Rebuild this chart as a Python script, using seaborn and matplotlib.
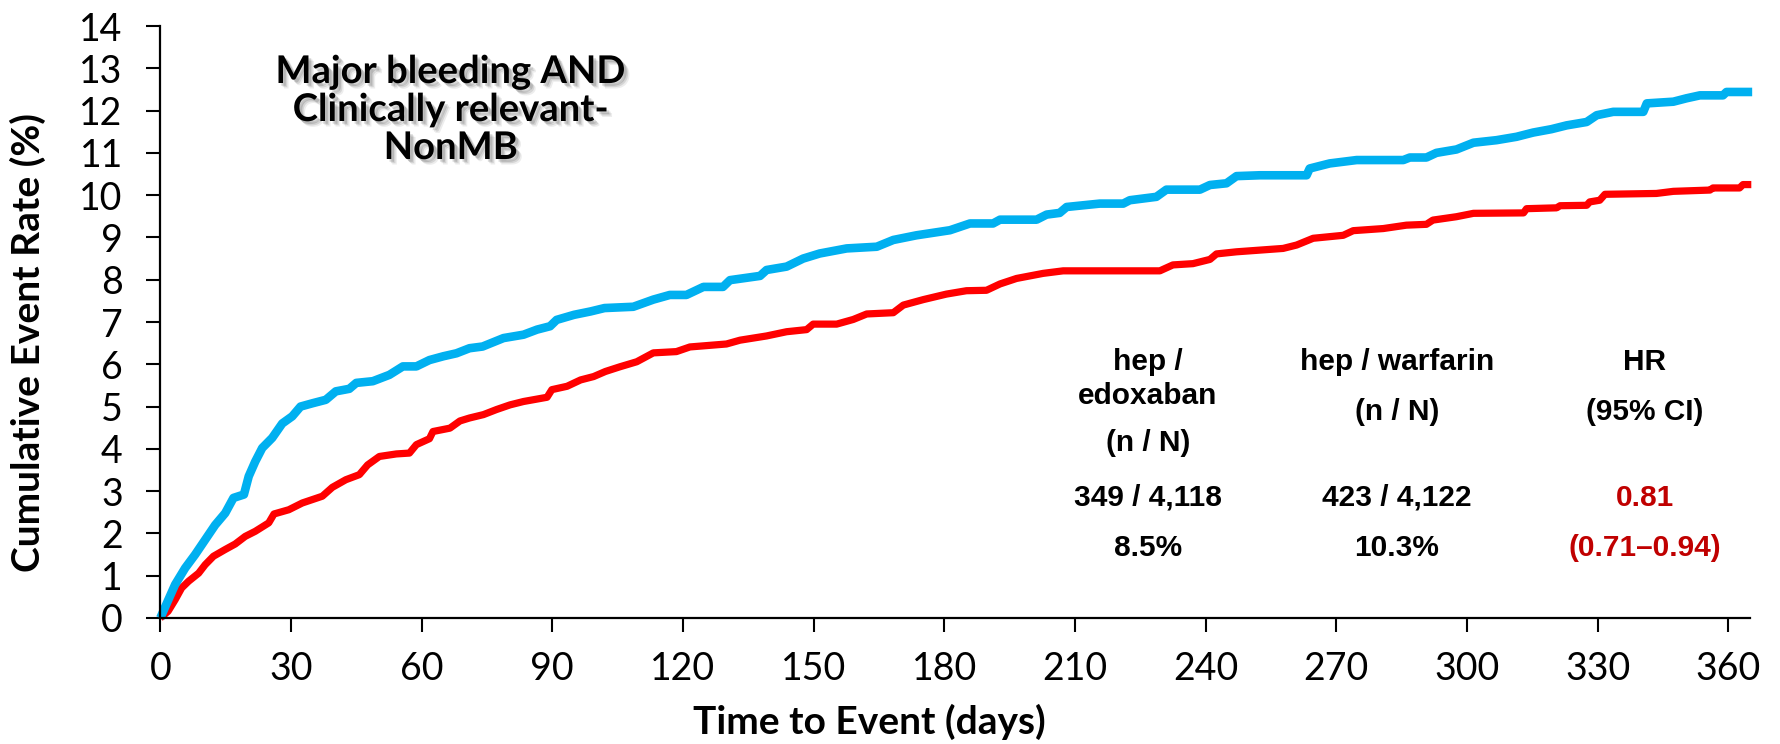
import matplotlib
matplotlib.use("Agg")
import matplotlib.pyplot as plt
import matplotlib.patheffects as pe
import seaborn as sns
import pandas as pd

# ---------------- data ----------------
warfarin_days = [0, 1.5, 3.4, 5.7, 8, 10.3, 12.6, 14.9, 16.8, 19.2, 20.3, 21.8, 23.4, 25.7, 28,
                 30.3, 32.2, 35, 38, 40.3, 43.4, 45, 48.8, 52.6, 55.7, 58.8, 61.8, 65, 68, 71, 74,
                 78.8, 83.4, 86.5, 89.5, 91, 95, 98.8, 102, 108.6, 113.2, 117, 120.8, 124.7, 129.2,
                 130.8, 137.7, 139.2, 143.8, 147.6, 151.4, 157.6, 164.5, 168.3, 173.6, 181.3, 185.9,
                 191.2, 192.8, 201.2, 203.5, 206.5, 208.1, 215.7, 221.1, 222.6, 228.7, 231, 238.7,
                 241, 244.8, 247.1, 252.5, 263.2, 263.9, 268.5, 274.7, 285.4, 286.9, 290.7, 293,
                 297.6, 301.5, 306.8, 311.4, 315.2, 319.4, 322.9, 327.5, 329.8, 333.6, 340.5, 341.3,
                 347.4, 350.4, 353.5, 358.8, 359.6, 365.5]
warfarin_rate = [0, 0.35, 0.79, 1.18, 1.5, 1.85, 2.2, 2.48, 2.84, 2.92, 3.35, 3.7, 4.02, 4.26, 4.6,
                 4.77, 5.0, 5.08, 5.16, 5.36, 5.42, 5.56, 5.6, 5.75, 5.95, 5.95, 6.1, 6.19, 6.26, 6.38, 6.42,
                 6.62, 6.7, 6.82, 6.9, 7.05, 7.17, 7.25, 7.33, 7.36, 7.53, 7.64, 7.64, 7.83, 7.83,
                 7.99, 8.09, 8.23, 8.31, 8.5, 8.62, 8.74, 8.78, 8.94, 9.05, 9.17, 9.33,
                 9.33, 9.42, 9.42, 9.54, 9.58, 9.72, 9.8, 9.8, 9.88, 9.96, 10.13, 10.13,
                 10.24, 10.28, 10.45, 10.47, 10.47, 10.63, 10.75, 10.83, 10.83, 10.89, 10.89, 11.0,
                 11.08, 11.24, 11.3, 11.38, 11.48, 11.56, 11.65, 11.73, 11.89, 11.97, 11.97, 12.17,
                 12.21, 12.29, 12.36, 12.36, 12.44, 12.44]

edoxaban_days = [0, 1.8, 3.4, 4.9, 6.5, 8.8, 10.3, 12.2, 14.9, 17.2, 19.5, 21.8, 24.9, 26.1, 29.5,
                 32.6, 37.2, 39.5, 42.6, 45.7, 47.6, 50.3, 54.2, 57.2, 58.8, 61.8, 62.6, 66.5, 68.8,
                 71, 74.2, 77.2, 80.3, 83.4, 88.8, 89.9, 93.4, 96.5, 99.5, 102.2, 105.5, 109.4, 113.2,
                 118.5, 121.6, 130, 133.1, 139.2, 143.8, 148.4, 149.9, 155.3, 159.1, 162.2, 168.3,
                 170.6, 175.2, 180.5, 185.1, 189.7, 192.8, 196.6, 202.7, 207.3, 229.5, 232.5, 237.1,
                 241, 242.5, 247.1, 257.8, 260.9, 264.7, 271.6, 273.9, 280.8, 286.1, 290.7, 292.2,
                 297.6, 301.5, 313, 313.7, 320.6, 321.4, 327.5, 328.2, 330.5, 331.7, 343.5, 347.4,
                 355.8, 356.5, 362.6, 363.4, 365.3]
edoxaban_rate = [0, 0.16, 0.43, 0.71, 0.87, 1.06, 1.26, 1.46, 1.62, 1.75, 1.93, 2.05, 2.25, 2.46, 2.56,
                 2.72, 2.88, 3.09, 3.27, 3.39, 3.62, 3.82, 3.88, 3.9, 4.1, 4.24, 4.41, 4.49, 4.66,
                 4.73, 4.81, 4.93, 5.04, 5.12, 5.22, 5.4, 5.48, 5.63, 5.71, 5.83, 5.94, 6.06, 6.27,
                 6.3, 6.41, 6.48, 6.57, 6.67, 6.77, 6.82, 6.95, 6.95, 7.06, 7.19, 7.22,
                 7.4, 7.53, 7.66, 7.74, 7.75, 7.9, 8.03, 8.15, 8.21, 8.21, 8.35, 8.38,
                 8.48, 8.61, 8.66, 8.74, 8.82, 8.98, 9.05, 9.16, 9.21, 9.29, 9.31, 9.41,
                 9.49, 9.57, 9.58, 9.68, 9.7, 9.75, 9.76, 9.84, 9.88, 10.02, 10.04, 10.09,
                 10.12, 10.17, 10.17, 10.25, 10.25]

x_ticks = [0, 30, 60, 90, 120, 150, 180, 210, 240, 270, 300, 330, 360]
y_ticks = list(range(0, 15))

title_lines = ["Major bleeding AND", "Clinically relevant-", "NonMB"]
col1_header = ["hep /", "edoxaban", "(n / N)"]
col2_header = ["hep / warfarin", "(n / N)"]
col3_header = ["HR", "(95% CI)"]
col1_values = ["349 / 4,118", "8.5%"]
col2_values = ["423 / 4,122", "10.3%"]
col3_values = ["0.81", "(0.71\u20130.94)"]

# ---------------- styling ----------------
sns.set_theme(style="ticks")
plt.rcParams['font.family'] = ['Lato', 'DejaVu Sans']

W, H = 1781, 744
fig = plt.figure(figsize=(W / 100, H / 100), dpi=100)
ax_l, ax_r, ax_t, ax_b = 160.3, 1750, 26, 618
ax = fig.add_axes([ax_l / W, 1 - ax_b / H, (ax_r - ax_l) / W, (ax_b - ax_t) / H])

df_e = pd.DataFrame({"day": edoxaban_days, "rate": edoxaban_rate})
df_w = pd.DataFrame({"day": warfarin_days, "rate": warfarin_rate})

sns.lineplot(data=df_e, x="day", y="rate", ax=ax, color="#FF0000", linewidth=5.2,
             estimator=None, sort=False, clip_on=False, solid_capstyle="butt")
sns.lineplot(data=df_w, x="day", y="rate", ax=ax, color="#00B0F0", linewidth=6.2,
             estimator=None, sort=False, clip_on=False, solid_capstyle="butt")

ax.set_xlim(0, 365)
ax.set_ylim(0, 14)
ax.set_xticks(x_ticks)
ax.set_yticks(y_ticks)
ax.set_xlabel("")
ax.set_ylabel("")
for s in ["top", "right"]:
    ax.spines[s].set_visible(False)
for s in ["left", "bottom"]:
    ax.spines[s].set_linewidth(1.6)
    ax.spines[s].set_color("black")
ax.tick_params(axis="both", direction="out", length=10, width=1.5, colors="black",
               labelsize=27)
ax.tick_params(axis="x", pad=14)
ax.tick_params(axis="y", pad=17)

# axis labels
fig.text(28 / W, 1 - 343 / H, "Cumulative Event Rate (%)", rotation=90, ha="center",
         va="center", fontsize=28, fontweight="bold", color="black")
fig.text(869 / W, 1 - 722 / H, "Time to Event (days)", ha="center", va="center",
         fontsize=28, fontweight="bold", color="black")

# title with soft shadow
shadow = [pe.SimplePatchShadow(offset=(4, -4), shadow_rgbFace="black", alpha=0.07),
          pe.SimplePatchShadow(offset=(3, -3), shadow_rgbFace="black", alpha=0.1),
          pe.SimplePatchShadow(offset=(2, -2), shadow_rgbFace="black", alpha=0.14),
          pe.Normal()]
for yy, line in zip([72, 110, 148], title_lines):
    fig.text(451 / W, 1 - yy / H, line, ha="center", va="center", fontsize=27.5,
             fontweight="bold", color="black", path_effects=shadow)

# statistics table
tfont = dict(ha="center", va="center", fontsize=21.5, fontweight="bold",
             family=["Liberation Sans", "DejaVu Sans"])
for yy, t in zip([362, 396, 443], col1_header):
    fig.text(1148 / W, 1 - yy / H, t, color="black", **tfont)
for yy, t in zip([362, 412], col2_header):
    fig.text(1397 / W, 1 - yy / H, t, color="black", **tfont)
for yy, t in zip([362, 412], col3_header):
    fig.text(1645 / W, 1 - yy / H, t, color="black", **tfont)
for yy, a, b, c in zip([498, 548], col1_values, col2_values, col3_values):
    fig.text(1148 / W, 1 - yy / H, a, color="black", **tfont)
    fig.text(1397 / W, 1 - yy / H, b, color="black", **tfont)
    fig.text(1645 / W, 1 - yy / H, c, color="#C00000", **tfont)

fig.savefig("out.png", dpi=100)
